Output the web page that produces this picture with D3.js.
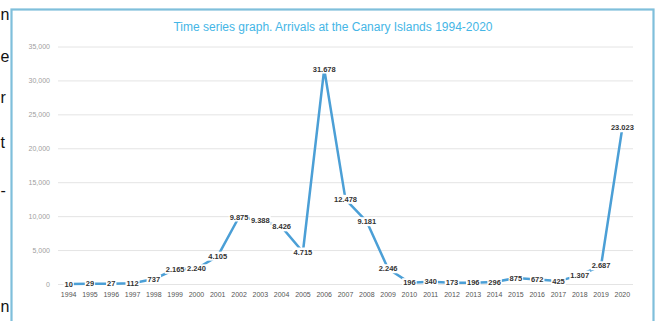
<!DOCTYPE html>
<html>
<head>
<meta charset="utf-8">
<script src="https://cdn.jsdelivr.net/npm/d3@7"></script>
<style>
    body { margin: 0; background: #fff; }
    svg { display: block; font-family: "Liberation Sans", Arial, sans-serif; }
</style>
</head>
<body>
<div id="chart"></div>
<script>
// Arrivals at the Canary Islands, by year
const years = ["1994", "1995", "1996", "1997", "1998", "1999", "2000", "2001", "2002",
    "2003", "2004", "2005", "2006", "2007", "2008", "2009", "2010", "2011", "2012",
    "2013", "2014", "2015", "2016", "2017", "2018", "2019", "2020"];
const arrivals = [10, 29, 27, 112, 737, 2165, 2240, 4105, 9875,
    9388, 8426, 4715, 31678, 12478, 9181, 2246, 196, 340, 173,
    196, 296, 875, 672, 425, 1307, 2687, 23023];
const yTicks = [0, 5000, 10000, 15000, 20000, 25000, 30000, 35000];
const titleText = "Time series graph. Arrivals at the Canary Islands 1994-2020";

// letters of the neighbouring slide text peeking in at the left edge
const edgeLetters = ["n", "e", "r", "t", "-", "n"];
const edgeRows = [14, 56, 97, 142, 190, 306];

const width = 659, height = 321;

const svg = d3.select("#chart").append("svg")
    .attr("width", width)
    .attr("height", height);

// frame
svg.append("rect")
    .attr("x", 11.5).attr("y", 9.5)
    .attr("width", 642).attr("height", 320)
    .attr("fill", "#fff")
    .attr("stroke", "#7fbfdb")
    .attr("stroke-width", 2.2);

svg.selectAll(".edge")
    .data(edgeLetters)
    .enter()
    .append("text")
    .attr("class", "edge")
    .attr("x", 0.5)
    .attr("y", (d, i) => edgeRows[i] + 6)
    .attr("font-size", 16)
    .attr("fill", "#111")
    .text(d => d);

svg.append("text")
    .attr("x", 333)
    .attr("y", 31)
    .attr("text-anchor", "middle")
    .attr("font-size", 12)
    .attr("fill", "#45b6e6")
    .text(titleText);

const x = d3.scaleBand()
    .domain(years)
    .range([58, 633]);

const y = d3.scaleLinear()
    .domain([0, 35000])
    .range([284, 46.5]);

// gridlines + y labels
const yAxis = svg.append("g")
    .attr("transform", "translate(58,0)")
    .call(d3.axisLeft(y)
        .tickValues(yTicks)
        .tickSize(-575)
        .tickPadding(8)
        .tickFormat(d3.format(",")));
yAxis.select(".domain").remove();
yAxis.selectAll(".tick line").attr("stroke", "#e4e4e4");
yAxis.selectAll(".tick text")
    .attr("fill", "#a0a0a0")
    .attr("font-size", 7)
    .attr("font-family", "Liberation Sans, Arial, sans-serif");

// x labels
const xAxis = svg.append("g")
    .attr("transform", "translate(0,284)")
    .call(d3.axisBottom(x).tickSize(0).tickPadding(8));
xAxis.select(".domain").remove();
xAxis.selectAll(".tick text")
    .attr("fill", "#555")
    .attr("font-size", 7)
    .attr("font-family", "Liberation Sans, Arial, sans-serif");

const line = d3.line()
    .x((d, i) => x(years[i]) + x.bandwidth() / 2)
    .y(d => y(d));

svg.append("path")
    .datum(arrivals)
    .attr("fill", "none")
    .attr("stroke", "#4b9fd6")
    .attr("stroke-width", 2.5)
    .attr("stroke-linejoin", "round")
    .attr("d", line);

// value labels, european thousands separator
const fmt = d3.formatLocale({ decimal: ",", thousands: ".", grouping: [3], currency: ["", "€"] }).format(",");

const labels = svg.selectAll(".lbl")
    .data(arrivals)
    .enter()
    .append("g")
    .attr("class", "lbl")
    .attr("transform", (d, i) => `translate(${x(years[i]) + x.bandwidth() / 2},${y(d)})`);

labels.append("text")
    .attr("text-anchor", "middle")
    .attr("dy", "0.35em")
    .attr("font-size", 7.5)
    .attr("font-weight", "bold")
    .attr("fill", "#333")
    .text(d => fmt(d));

labels.each(function () {
    const g = d3.select(this);
    const w = g.select("text").node().getComputedTextLength();
    g.insert("rect", "text")
        .attr("x", -w / 2 - 1)
        .attr("y", -4.5)
        .attr("width", w + 2)
        .attr("height", 9)
        .attr("fill", "#fff");
});
</script>
</body>
</html>
